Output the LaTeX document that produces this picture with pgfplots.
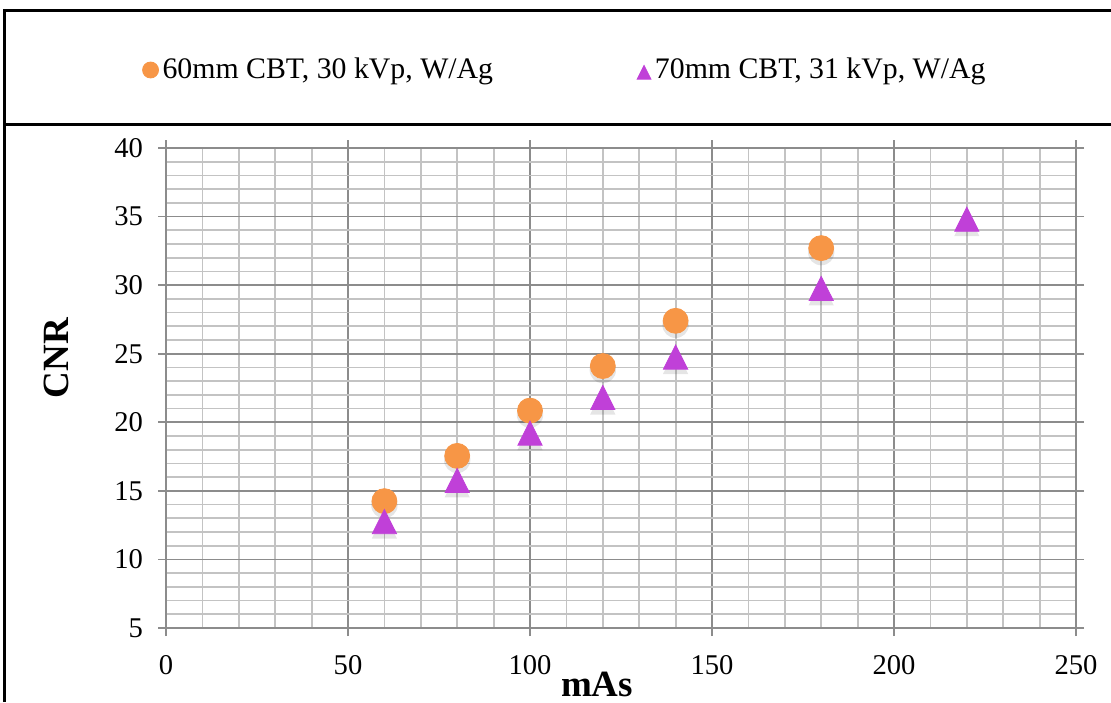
\documentclass[border=0pt]{standalone}
\usepackage{fontspec}
\setmainfont{Liberation Serif}
\usepackage{pgfplots}
\pgfplotsset{compat=1.18}
\definecolor{orng}{RGB}{247,150,70}
\definecolor{purp}{RGB}{192,64,216}
\definecolor{majgrid}{RGB}{140,140,140}
\definecolor{mingrid}{RGB}{195,195,195}
\pgfplotstableread{
x y
60 14.25
80 17.55
100 20.85
120 24.1
140 27.4
180 32.7
}\tabA
\pgfplotstableread{
x y
60 12.8
80 15.8
100 19.25
120 21.85
140 24.8
180 29.8
220 34.85
}\tabB
\begin{document}
\begin{tikzpicture}[x=1pt,y=1pt]
\useasboundingbox (0,0) rectangle (555.5,351);
\draw[line width=1.2pt] (2.15,0) -- (2.15,345.75) -- (555.5,345.75);
\draw[line width=1.2pt] (2.15,288.65) -- (555.5,288.65);
\begin{axis}[
  at={(83pt,37pt)}, anchor=south west,
  width=455pt, height=240pt, scale only axis,
  xmin=0, xmax=250, ymin=5, ymax=40,
  xtick={0,50,...,250}, ytick={5,10,...,40},
  minor x tick num=4, minor y tick num=4,
  grid=both,
  major grid style={majgrid, line width=0.9pt},
  minor grid style={mingrid, line width=0.9pt},
  axis line style={majgrid, line width=0.9pt},
  major tick style={majgrid, line width=0.9pt},
  tick align=outside, major tick length=4pt, minor tick length=0pt,
  /pgf/number format/assume math mode=true,
  xticklabel={\pgfmathprintnumber{\tick}},
  yticklabel={\pgfmathprintnumber{\tick}},
  tick label style={font=\fontsize{14.3}{16}\selectfont},
  xticklabel style={yshift=-6pt},
  yticklabel style={xshift=-4pt},
  xlabel={\textbf{mAs}},
  xlabel style={at={(axis description cs:0.4736,-0.142)}, anchor=base, font=\fontsize{18.5}{20}\selectfont},
  ylabel={\textbf{CNR}},
  ylabel style={at={(axis description cs:-0.12,0.5625)}, anchor=center, font=\fontsize{18.5}{20}\selectfont},
  legend style={at={(axis description cs:0.4396,1.1625)}, anchor=center, draw=none, fill=none,
    font=\fontsize{14.9}{17}\selectfont,
    /tikz/every even column/.append style={column sep=70pt}},
  legend columns=2,
  legend image code/.code={\draw[#1,mark size=4pt] plot coordinates {(0pt,0pt)};},
]
\addplot[only marks, mark=*, mark size=6.6pt, forget plot,
  mark options={fill=black, fill opacity=0.1, draw opacity=0, yshift=-2pt}] table[x=x,y=y] {\tabA};
\addplot[only marks, mark=triangle*, mark size=7.3pt, forget plot,
  mark options={fill=black, fill opacity=0.1, draw opacity=0, yscale=1.15, yshift=-4pt}] table[x=x,y=y] {\tabB};
\addplot[only marks, mark=*, mark size=6.25pt, color=orng, mark options={fill=orng, draw=orng}] table[x=x,y=y] {\tabA};
\addlegendentry{60mm CBT, 30 kVp, W/Ag}
\addplot[only marks, mark=triangle*, mark size=7pt, color=purp, mark options={fill=purp, draw=purp, yscale=1.15, yshift=-2pt}] table[x=x,y=y] {\tabB};
\addlegendentry{70mm CBT, 31 kVp, W/Ag}
\end{axis}
\end{tikzpicture}
\end{document}
